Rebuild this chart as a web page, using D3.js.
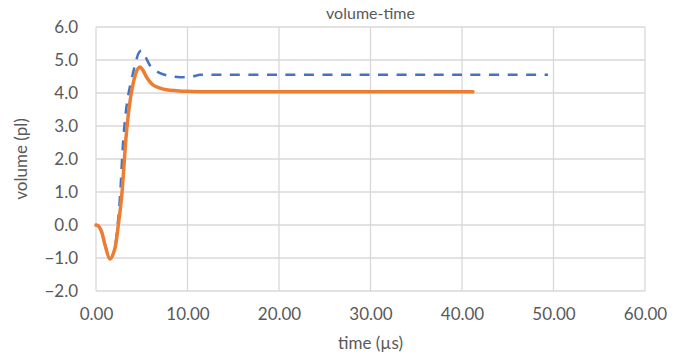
<!DOCTYPE html>
<html><head><meta charset="utf-8">
<script src="https://cdn.jsdelivr.net/npm/d3@7"></script>
<style>body{margin:0;background:#fff;}svg{display:block;}</style>
</head><body>
<script>
const title = "volume-time";
const xLabel = "time (µs)";
const yLabel = "volume (pl)";
const xTicks = [0, 10, 20, 30, 40, 50, 60];
const yTicks = [-2, -1, 0, 1, 2, 3, 4, 5, 6];
// dashed blue series
const blueT = [0, 0.3, 0.62, 1.0, 1.53, 2.0, 2.4, 2.62, 3.06, 3.5, 4.0, 4.4, 4.75, 5.0, 5.4, 6.0, 7.0, 8.0, 9.2, 10.5, 11.4, 13, 20, 30, 40, 49.4];
const blueV = [0, -0.04, -0.21, -0.6, -1.03, -0.75, 0.1, 0.85, 2.87, 3.9, 4.55, 5.0, 5.25, 5.28, 5.1, 4.8, 4.6, 4.52, 4.48, 4.5, 4.55, 4.55, 4.55, 4.55, 4.55, 4.55];
// solid orange series
const orangeT = [0, 0.3, 0.62, 1.0, 1.53, 2.0, 2.44, 2.8, 3.35, 3.79, 4.2, 4.5, 4.8, 5.1, 5.6, 6.3, 7.0, 7.7, 8.8, 9.9, 11.5, 15, 20, 30, 41.2];
const orangeV = [0, -0.04, -0.21, -0.62, -1.03, -0.78, 0, 0.85, 2.87, 3.88, 4.45, 4.7, 4.79, 4.7, 4.45, 4.23, 4.15, 4.1, 4.07, 4.05, 4.04, 4.04, 4.04, 4.04, 4.04];

const W = 689, H = 358;
const m = {left: 96, right: 44, top: 27, bottom: 67};
const svg = d3.select("body").append("svg").attr("width", W).attr("height", H);
const x = d3.scaleLinear().domain([0, 60]).range([m.left, W - m.right]);
const y = d3.scaleLinear().domain([-2, 6]).range([H - m.bottom, m.top]);
const font = "Lato, 'Open Sans', sans-serif";
const tc = "#595959";

// grid
svg.append("g").selectAll("line.h").data(yTicks).join("line")
  .attr("x1", x(0)).attr("x2", x(60)).attr("y1", d => y(d)).attr("y2", d => y(d))
  .attr("stroke", "#d9d9d9").attr("stroke-width", 1.3);
svg.append("g").selectAll("line.v").data(xTicks).join("line")
  .attr("y1", y(-2)).attr("y2", y(6)).attr("x1", d => x(d)).attr("x2", d => x(d))
  .attr("stroke", "#d9d9d9").attr("stroke-width", 1.3);

// axes labels
const yAxis = d3.axisLeft(y).tickValues(yTicks).tickFormat(d3.format(".1f")).tickSize(0).tickPadding(18);
const gy = svg.append("g").attr("transform", `translate(${x(0)},0)`).call(yAxis);
gy.select(".domain").remove();
gy.selectAll("text").attr("font-family", font).attr("font-size", 17).attr("fill", tc);

const xAxis = d3.axisBottom(x).tickValues(xTicks).tickFormat(d3.format(".2f")).tickSize(0).tickPadding(17);
const gx = svg.append("g").attr("transform", `translate(0,${y(-2)})`).call(xAxis);
gx.select(".domain").remove();
gx.selectAll("text").attr("font-family", font).attr("font-size", 17).attr("fill", tc);

// lines
const line = d3.line().x(d => x(d[0])).y(d => y(d[1])).curve(d3.curveCatmullRom.alpha(0.5));
svg.append("path").datum(blueT.map((t, i) => [t, blueV[i]]))
  .attr("d", line).attr("fill", "none").attr("stroke", "#4472C4")
  .attr("stroke-width", 2.5).attr("stroke-dasharray", "10,8.5");
svg.append("path").datum(orangeT.map((t, i) => [t, orangeV[i]]))
  .attr("d", line).attr("fill", "none").attr("stroke", "#ED7D31")
  .attr("stroke-width", 3.5).attr("stroke-linejoin", "round").attr("stroke-linecap", "round");

// titles
svg.append("text").attr("x", (x(0) + x(60)) / 2).attr("y", 19).attr("text-anchor", "middle")
  .attr("font-family", font).attr("font-size", 16).attr("fill", tc).text(title);
svg.append("text").attr("x", (x(0) + x(60)) / 2).attr("y", 349).attr("text-anchor", "middle")
  .attr("font-family", font).attr("font-size", 17).attr("fill", tc).text(xLabel);
svg.append("text").attr("transform", `translate(27,${(y(-2) + y(6)) / 2}) rotate(-90)`)
  .attr("text-anchor", "middle").attr("font-family", font).attr("font-size", 17).attr("fill", tc).text(yLabel);
</script>
</body></html>
